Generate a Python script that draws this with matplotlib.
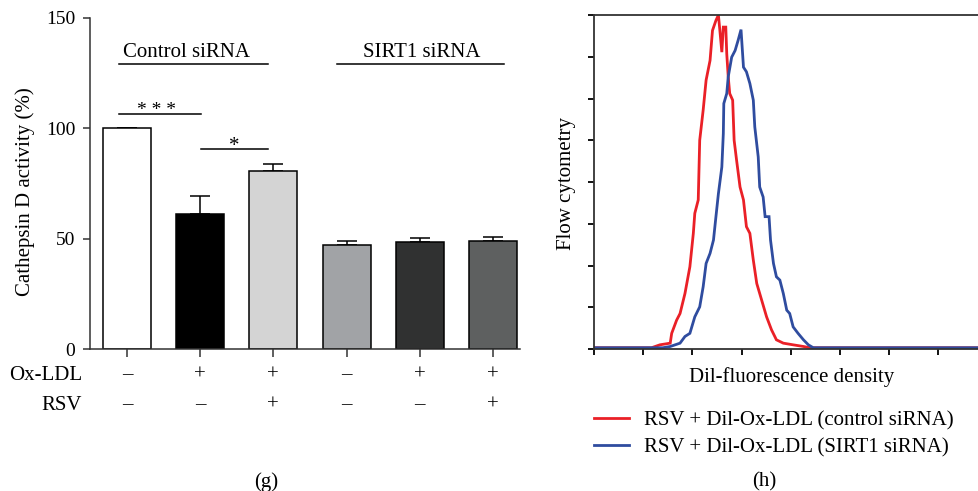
import matplotlib
matplotlib.use("Agg")
import matplotlib.pyplot as plt
from matplotlib.transforms import blended_transform_factory

# ---------------- data ----------------
groups = ["Control siRNA", "SIRT1 siRNA"]
bar_values = [100.0, 61.3, 80.5, 47.0, 48.6, 49.1]
bar_errors = [0.3, 7.9, 3.5, 1.8, 1.6, 1.5]
bar_colors = ["#ffffff", "#000000", "#d4d4d4", "#a1a3a6", "#303131", "#5e6060"]
oxldl_signs = ["–", "+", "+", "–", "+", "+"]
rsv_signs = ["–", "–", "+", "–", "–", "+"]
y_ticks = [0, 50, 100, 150]

red_x = [0.0, 1.17, 1.34, 1.55, 1.58, 1.68, 1.75, 1.85, 1.95, 2.02, 2.05, 2.12, 2.15,
         2.22, 2.28, 2.36, 2.41, 2.48, 2.53, 2.56, 2.60, 2.63, 2.68, 2.70, 2.73, 2.76,
         2.82, 2.85, 2.90, 2.97, 3.04, 3.10, 3.17, 3.24, 3.31, 3.41, 3.51, 3.61, 3.71,
         3.85, 4.05, 4.26, 4.39, 7.85]
red_y = [0.03, 0.03, 0.10, 0.14, 0.375, 0.69, 0.85, 1.33, 1.97, 2.77, 3.25, 3.57, 5.0,
         5.72, 6.44, 6.91, 7.63, 7.87, 8.0, 7.63, 7.11, 7.71, 7.71, 7.07, 6.52, 6.12,
         5.96, 5.0, 4.52, 3.88, 3.57, 2.93, 2.77, 2.13, 1.57, 1.17, 0.77, 0.46, 0.22,
         0.14, 0.10, 0.06, 0.03, 0.03]
blue_x = [0.0, 1.40, 1.55, 1.75, 1.85, 1.95, 2.05, 2.15, 2.22, 2.28, 2.36, 2.43, 2.48,
          2.53, 2.60, 2.63, 2.64, 2.70, 2.73, 2.80, 2.87, 2.93, 2.99, 3.04, 3.10, 3.17,
          3.24, 3.27, 3.34, 3.37, 3.44, 3.48, 3.56, 3.59, 3.65, 3.71, 3.78, 3.85, 3.92,
          3.98, 4.05, 4.15, 4.26, 4.36, 4.46, 7.85]
blue_y = [0.03, 0.03, 0.06, 0.14, 0.30, 0.375, 0.77, 1.01, 1.49, 2.05, 2.29, 2.61, 3.17,
          3.72, 4.36, 5.16, 5.88, 6.12, 6.52, 6.99, 7.15, 7.39, 7.65, 6.75, 6.64, 6.36,
          5.96, 5.32, 4.60, 3.88, 3.64, 3.17, 3.17, 2.61, 2.05, 1.73, 1.65, 1.33, 0.93,
          0.85, 0.53, 0.375, 0.22, 0.10, 0.03, 0.03]
legend_labels = ["RSV + Dil-Ox-LDL (control siRNA)", "RSV + Dil-Ox-LDL (SIRT1 siRNA)"]

# ---------------- style ----------------
plt.rcParams['font.family'] = ['Liberation Serif', 'DejaVu Serif']
FS = 15
SPINE = "#333333"

W, H = 979, 491
fig = plt.figure(figsize=(W / 100, H / 100), dpi=100)

def fx(px):
    return px / W

def fy(py):
    return 1 - py / H

# ---------------- left panel (g) ----------------
ax = fig.add_axes([fx(90), fy(349), fx(430), (349 - 18) / H])
pos = list(range(len(bar_values)))
ax.bar(pos, bar_values, width=0.656, color=bar_colors, edgecolor="black", linewidth=1.1, zorder=2)
ax.errorbar(pos, bar_values, yerr=[[0] * len(bar_errors), bar_errors], fmt="none",
            ecolor="black", elinewidth=1.1, capsize=7, capthick=1.1, zorder=1)
ax.set_xlim(-0.505, 5.37)
ax.set_ylim(0, 150)
ax.set_yticks(y_ticks)
ax.set_xticks(pos)
ax.set_xticklabels([])
for s in ["top", "right"]:
    ax.spines[s].set_visible(False)
for s in ["left", "bottom"]:
    ax.spines[s].set_color(SPINE)
    ax.spines[s].set_linewidth(1.1)
ax.tick_params(axis="y", direction="out", length=5, width=1.1, color=SPINE, labelsize=14, pad=5.5)
ax.tick_params(axis="x", direction="out", length=6, width=1.1, color=SPINE)

# group labels
ax.plot([-0.11, 1.93], [129.2, 129.2], color="black", lw=1.1, clip_on=False)
ax.plot([2.87, 5.15], [129.2, 129.2], color="black", lw=1.1, clip_on=False)
ax.text(0.81, 132.5, groups[0], ha="center", va="baseline", fontsize=FS)
ax.text(4.03, 132.5, groups[1], ha="center", va="baseline", fontsize=FS)

# significance
ax.plot([-0.11, 1.007], [106.5, 106.5], color="black", lw=1.1)
ax.text(0.406, 104.3, "* * *", ha="center", va="bottom", fontsize=FS - 1)
ax.plot([1.007, 1.927], [90.6, 90.6], color="black", lw=1.1)
ax.text(1.462, 87.3, "*", ha="center", va="bottom", fontsize=FS)

# treatment rows
trans = blended_transform_factory(ax.transData, fig.transFigure)
for i in pos:
    ax.text(i, fy(375), oxldl_signs[i], transform=trans, ha="center", va="center", fontsize=FS)
    ax.text(i, fy(405), rsv_signs[i], transform=trans, ha="center", va="center", fontsize=FS)
fig.text(fx(82), fy(375), "Ox-LDL", ha="right", va="center", fontsize=FS)
fig.text(fx(82), fy(405), "RSV", ha="right", va="center", fontsize=FS)
fig.text(fx(25), fy(192), "Cathepsin D activity (%)", rotation=90, ha="center", va="center", fontsize=FS)
fig.text(fx(266), fy(482), "(g)", ha="center", va="center", fontsize=FS)

# ---------------- right panel (h) ----------------
ax2 = fig.add_axes([fx(594), fy(349), fx(385), (349 - 15) / H])
ax2.plot(red_x, red_y, color="#ea2027", lw=2.0, label=legend_labels[0], solid_joinstyle="miter")
ax2.plot(blue_x, blue_y, color="#2f4c9f", lw=2.0, label=legend_labels[1], solid_joinstyle="miter")
ax2.set_xlim(0, 7.83)
ax2.set_ylim(0, 8)
ax2.set_xticks(range(0, 8))
ax2.set_yticks(range(0, 9))
ax2.set_xticklabels([])
ax2.set_yticklabels([])
ax2.spines["right"].set_visible(False)
for s in ["left", "bottom", "top"]:
    ax2.spines[s].set_color(SPINE)
    ax2.spines[s].set_linewidth(1.3)
ax2.tick_params(axis="both", direction="out", length=4, width=1.3, color="black")
fig.text(fx(567), fy(183), "Flow cytometry", rotation=90, ha="center", va="center", fontsize=FS)
fig.text(fx(792), fy(377), "Dil-fluorescence density", ha="center", va="center", fontsize=FS)
leg = ax2.legend(loc="upper left", bbox_to_anchor=(fx(594), fy(411)), bbox_transform=fig.transFigure,
                 frameon=False, fontsize=FS, handlelength=1.7, handletextpad=0.7,
                 labelspacing=0.33, borderpad=0, borderaxespad=0)
fig.text(fx(764), fy(482), "(h)", ha="center", va="center", fontsize=FS)

fig.savefig("out.png", dpi=100)
